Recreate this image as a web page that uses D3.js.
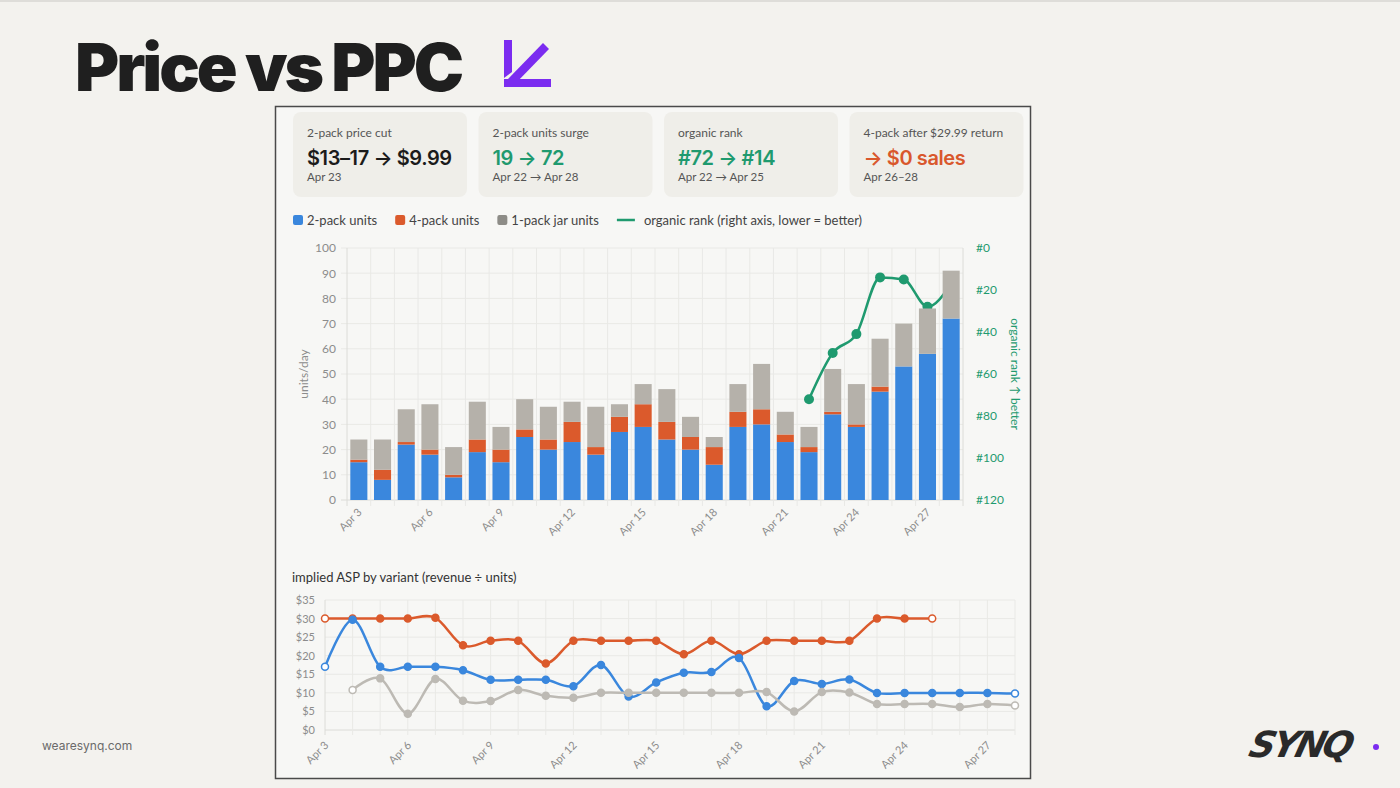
<!DOCTYPE html>
<html>
<head>
<meta charset="utf-8">
<script src="https://cdn.jsdelivr.net/npm/d3@7"></script>
<style>
  body { margin: 0; background: #f3f2ee; }
  svg { display: block; }
</style>
</head>
<body>
<svg class="chart"></svg>
<script>
var days = ["Apr 3","Apr 4","Apr 5","Apr 6","Apr 7","Apr 8","Apr 9","Apr 10","Apr 11","Apr 12","Apr 13","Apr 14","Apr 15",
            "Apr 16","Apr 17","Apr 18","Apr 19","Apr 20","Apr 21","Apr 22","Apr 23","Apr 24","Apr 25","Apr 26","Apr 27","Apr 28"];
var tickDays = ["Apr 3","Apr 6","Apr 9","Apr 12","Apr 15","Apr 18","Apr 21","Apr 24","Apr 27"];

// units/day
var twoPack  = [15,8,22,18,9,19,15,25,20,23,18,27,29,24,20,14,29,30,23,19,34,29,43,53,58,72];
var fourPack = [1,4,1,2,1,5,5,3,4,8,3,6,9,7,5,7,6,6,3,2,1,1,2,0,0,0];
var onePack  = [8,12,13,18,11,15,9,12,13,8,16,5,8,13,8,4,11,18,9,8,17,16,19,17,18,19];
// organic rank (only tracked from Apr 22)
var rank = [null,null,null,null,null,null,null,null,null,null,null,null,null,null,null,null,null,null,null,72,50,41,14,15,28,17];

// implied ASP ($)
var asp2 = [17,29.7,17,17,17,16.1,13.5,13.5,13.5,11.8,17.5,9,12.8,15.4,15.6,19.4,6.4,13.2,12.4,13.6,9.99,9.99,9.99,9.99,9.99,9.8];
var asp4 = [30,30,30,30,30.2,22.8,24,24,17.9,24,24,24,24,20.4,24,20.4,24,24,24,24,30,30,30,null,null,null];
var asp1 = [null,10.8,13.9,4.4,13.75,7.9,7.8,10.8,9.2,8.7,10,10,10,10,10,10,10.2,5,10.2,10.1,7,7,7,6.2,7,6.6];

var cards = [
  {label: "2-pack price cut", value: "$13–17 → $9.99", sub: "Apr 23", color: "#1b1b1b"},
  {label: "2-pack units surge", value: "19 → 72", sub: "Apr 22 → Apr 28", color: "#1f9a6f"},
  {label: "organic rank", value: "#72 → #14", sub: "Apr 22 → Apr 25", color: "#1f9a6f"},
  {label: "4-pack after $29.99 return", value: "→ $0 sales", sub: "Apr 26–28", color: "#d9572c"}
];

var blue = "#3a87dd", orange = "#db5a2c", grayBar = "#b5b1aa", green = "#1f9a6f", grayLine = "#bdbab4";
var tickColor = "#8c8c8c", gridColor = "#e9e9e6";
var font = "Lato, 'Open Sans', sans-serif";

var width = 1400;
var height = 788;
var svg = d3.select(".chart").attr("width", width).attr("height", height);

svg.append("rect").attr("width", width).attr("height", height).attr("fill", "#f3f2ee");
svg.append("rect").attr("width", width).attr("height", 2).attr("fill", "#deddd9");

// ---------- slide header / footer ----------
svg.append("text")
    .attr("x", 75).attr("y", 91)
    .attr("textLength", 386).attr("lengthAdjust", "spacingAndGlyphs")
    .style("font-family", "Inter, sans-serif").style("font-weight", 900)
    .style("font-size", "66px").style("letter-spacing", "-3px").style("fill", "#1f1f1f")
    .text("Price vs PPC");

var purple = "#7b2cf0";
svg.append("path").attr("d", "M504,40 L512,40 L512,72 L504,78 Z").attr("fill", purple);
svg.append("path").attr("d", "M508,79 L543,43 L549,49 L515,84 Z").attr("fill", purple);
svg.append("rect").attr("x", 504).attr("y", 79).attr("width", 47).attr("height", 8).attr("fill", purple);

svg.append("text")
    .attr("x", 42).attr("y", 750)
    .style("font-family", "Inter, sans-serif").style("font-size", "12px").style("fill", "#6a6a6a")
    .text("wearesynq.com");

svg.append("text")
    .attr("x", 1250).attr("y", 757)
    .attr("transform", "skewX(-14) translate(186,0)")
    .style("font-family", "'DejaVu Sans', sans-serif").style("font-weight", 700).style("font-style", "italic")
    .style("font-size", "36px").style("letter-spacing", "-3px").style("fill", "#2a2a2a")
    .text("SYNQ");
svg.append("circle").attr("cx", 1376).attr("cy", 747).attr("r", 3).attr("fill", purple);

// ---------- panel ----------
svg.append("rect")
    .attr("x", 275.5).attr("y", 106.5).attr("width", 755).attr("height", 672)
    .attr("fill", "#f7f7f5").attr("stroke", "#4a4a4a").attr("stroke-width", 1.5);

var card = svg.selectAll(".card").data(cards).enter().append("g")
    .attr("class", "card")
    .attr("transform", function(d, i){ return "translate(" + (293 + i * 185.5) + ",112)"; });
card.append("rect").attr("width", 174).attr("height", 85).attr("rx", 8).attr("fill", "#efeee9");
card.append("text").attr("x", 14).attr("y", 25)
    .style("font-family", font).style("font-size", "12px").style("fill", "#555")
    .text(function(d){ return d.label; });
card.append("text").attr("x", 14).attr("y", 53)
    .style("font-family", "Inter, sans-serif").style("font-weight", 600).style("font-size", "20px")
    .style("letter-spacing", "-0.4px")
    .style("fill", function(d){ return d.color; })
    .text(function(d){ return d.value; });
card.append("text").attr("x", 14).attr("y", 69)
    .style("font-family", font).style("font-size", "11.5px").style("fill", "#555")
    .text(function(d){ return d.sub; });

// ---------- legend ----------
var legendItems = [
  {name: "2-pack units", color: blue, type: "box"},
  {name: "4-pack units", color: orange, type: "box"},
  {name: "1-pack jar units", color: "#8d8c87", type: "box"},
  {name: "organic rank (right axis, lower = better)", color: green, type: "line"}
];
var lx = 293;
legendItems.forEach(function(item){
  var g = svg.append("g").attr("transform", "translate(" + lx + ",220)");
  var offset = 14;
  if (item.type == "box") {
    g.append("rect").attr("x", 0).attr("y", -5).attr("width", 10).attr("height", 10).attr("rx", 2).attr("fill", item.color);
  } else {
    g.append("line").attr("x1", 0).attr("x2", 18).attr("y1", 0).attr("y2", 0)
        .attr("stroke", item.color).attr("stroke-width", 2.5);
    offset = 27;
  }
  var t = g.append("text").attr("x", offset).attr("y", 4.5)
      .style("font-family", font).style("font-size", "13px").style("fill", "#444")
      .text(item.name);
  lx += offset + t.node().getComputedTextLength() + 18;
});

// ---------- top chart: stacked units + rank ----------
var x = d3.scaleBand().domain(days).range([347, 963]).paddingInner(0.28).paddingOuter(0.14);
var y = d3.scaleLinear().domain([0, 100]).range([500, 248]);
var yR = d3.scaleLinear().domain([0, 120]).range([248, 500]);

var step = x.step();
var top_ = svg.append("g");
top_.selectAll(".hgrid").data(y.ticks(10)).enter().append("line")
    .attr("x1", 341).attr("x2", 963)
    .attr("y1", function(d){ return y(d); }).attr("y2", function(d){ return y(d); })
    .attr("stroke", function(d){ return d == 0 ? "#dcdcd8" : gridColor; });
top_.selectAll(".vgrid").data(d3.range(days.length + 1)).enter().append("line")
    .attr("x1", function(i){ return 347 + i * step; }).attr("x2", function(i){ return 347 + i * step; })
    .attr("y1", 248).attr("y2", 506)
    .attr("stroke", function(i){ return (i == 0 || i == days.length) ? "#dcdcd8" : gridColor; });

// rank line sits behind the bars
var rankLine = d3.line()
    .defined(function(d){ return d != null; })
    .x(function(d, i){ return x(days[i]) + x.bandwidth() / 2; })
    .y(function(d){ return yR(d); })
    .curve(d3.curveMonotoneX);
top_.append("path").datum(rank).attr("d", rankLine)
    .attr("fill", "none").attr("stroke", green).attr("stroke-width", 2.5);
top_.selectAll(".rankdot").data(rank.map(function(d, i){ return {r: d, day: days[i]}; }).filter(function(d){ return d.r != null; }))
    .enter().append("circle")
    .attr("cx", function(d){ return x(d.day) + x.bandwidth() / 2; })
    .attr("cy", function(d){ return yR(d.r); })
    .attr("r", 5).attr("fill", green);

var stackRows = days.map(function(d, i){ return {day: d, two: twoPack[i], four: fourPack[i], one: onePack[i]}; });
var stacked = d3.stack().keys(["two", "four", "one"])(stackRows);
var barColors = {two: blue, four: orange, one: grayBar};
top_.selectAll(".layer").data(stacked).enter().append("g")
    .attr("fill", function(s){ return barColors[s.key]; })
  .selectAll("rect").data(function(s){ return s; }).enter().append("rect")
    .attr("x", function(d){ return x(d.data.day); })
    .attr("width", x.bandwidth())
    .attr("y", function(d){ return y(d[1]); })
    .attr("height", function(d){ return y(d[0]) - y(d[1]); });

var yAxis = top_.append("g").attr("transform", "translate(347,0)")
    .call(d3.axisLeft(y).ticks(10).tickSize(0).tickPadding(11));
yAxis.select(".domain").remove();
yAxis.selectAll("text").style("font-family", font).style("font-size", "12px").style("fill", tickColor);

var rAxis = top_.append("g").attr("transform", "translate(963,0)")
    .call(d3.axisRight(yR).tickValues([0, 20, 40, 60, 80, 100, 120]).tickFormat(function(d){ return "#" + d; }).tickSize(0).tickPadding(13));
rAxis.select(".domain").remove();
rAxis.selectAll("text").style("font-family", font).style("font-size", "12px").style("fill", green);

var xAxis = top_.append("g").attr("transform", "translate(0,503)")
    .call(d3.axisBottom(x).tickValues(tickDays).tickSize(0));
xAxis.select(".domain").remove();
xAxis.selectAll("text")
    .attr("transform", "rotate(-45)").attr("dx", "-0.4em").attr("dy", "0.6em")
    .style("text-anchor", "end")
    .style("font-family", font).style("font-size", "11px").style("fill", tickColor);

svg.append("text")
    .attr("transform", "translate(308,374) rotate(-90)")
    .style("text-anchor", "middle").style("font-family", font).style("font-size", "12px").style("fill", tickColor)
    .text("units/day");
svg.append("text")
    .attr("transform", "translate(1011,374) rotate(90)")
    .style("text-anchor", "middle").style("font-family", font).style("font-size", "12px").style("fill", green)
    .text("organic rank ↑ better");

// ---------- bottom chart: implied ASP ----------
svg.append("text")
    .attr("x", 292).attr("y", 582)
    .style("font-family", font).style("font-size", "13px").style("fill", "#333")
    .text("implied ASP by variant (revenue ÷ units)");

var xB = d3.scalePoint().domain(days).range([325, 1015]);
var yB = d3.scaleLinear().domain([0, 35]).range([730, 600]);

var bot = svg.append("g");
bot.selectAll(".hgrid").data(d3.range(0, 36, 5)).enter().append("line")
    .attr("x1", 325).attr("x2", 1015)
    .attr("y1", function(d){ return yB(d); }).attr("y2", function(d){ return yB(d); })
    .attr("stroke", function(d){ return d == 0 ? "#dcdcd8" : gridColor; });
bot.selectAll(".vgrid").data(days).enter().append("line")
    .attr("x1", function(d){ return xB(d); }).attr("x2", function(d){ return xB(d); })
    .attr("y1", 600).attr("y2", 735)
    .attr("stroke", function(d, i){ return i == 0 ? "#dcdcd8" : gridColor; });

var yBAxis = bot.append("g").attr("transform", "translate(325,0)")
    .call(d3.axisLeft(yB).tickValues(d3.range(0, 36, 5)).tickFormat(function(d){ return "$" + d; }).tickSize(0).tickPadding(10));
yBAxis.select(".domain").remove();
yBAxis.selectAll("text").style("font-family", font).style("font-size", "11px").style("fill", tickColor);

var xBAxis = bot.append("g").attr("transform", "translate(0,736)")
    .call(d3.axisBottom(xB).tickValues(tickDays).tickSize(0));
xBAxis.select(".domain").remove();
xBAxis.selectAll("text")
    .attr("transform", "rotate(-45)").attr("dx", "-0.4em").attr("dy", "0.6em")
    .style("text-anchor", "end")
    .style("font-family", font).style("font-size", "11px").style("fill", tickColor);

var aspSeries = [
  {name: "4-pack", values: asp4, color: orange},
  {name: "2-pack", values: asp2, color: blue},
  {name: "1-pack jar", values: asp1, color: grayLine}
];
var aspLine = d3.line()
    .defined(function(d){ return d != null; })
    .x(function(d, i){ return xB(days[i]); })
    .y(function(d){ return yB(d); })
    .curve(d3.curveCatmullRom.alpha(0));

aspSeries.forEach(function(s){
  bot.append("path").datum(s.values).attr("d", aspLine)
      .attr("fill", "none").attr("stroke", s.color).attr("stroke-width", 2.5);
  var pts = s.values.map(function(v, i){ return {v: v, day: days[i]}; }).filter(function(d){ return d.v != null; });
  bot.selectAll(null).data(pts).enter().append("circle")
      .attr("cx", function(d){ return xB(d.day); })
      .attr("cy", function(d){ return yB(d.v); })
      .attr("r", 3.5)
      .attr("fill", function(d, i){ return (i == 0 || i == pts.length - 1) ? "#fff" : s.color; })
      .attr("stroke", s.color).attr("stroke-width", 1.5);
});
</script>
</body>
</html>
